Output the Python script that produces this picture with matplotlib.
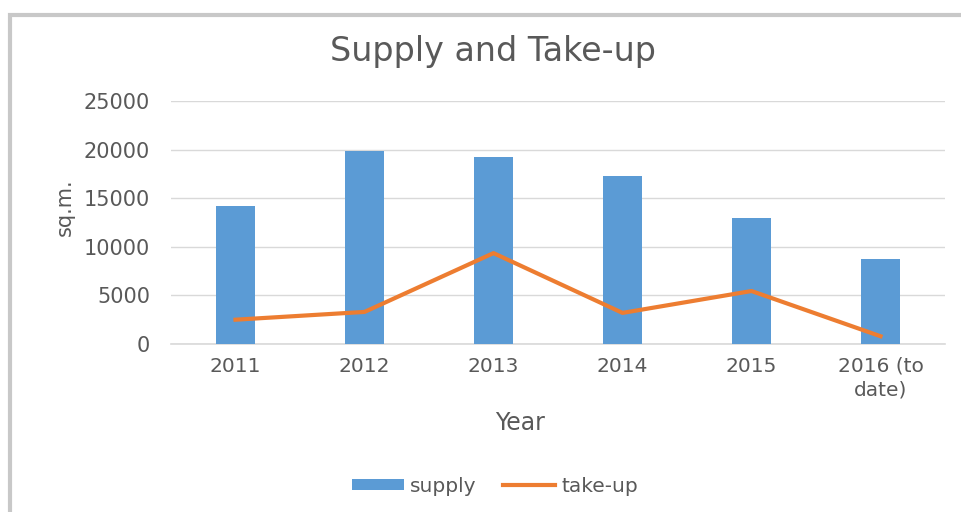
# Supply and Take-up chart
import matplotlib.pyplot as plt
from matplotlib.patches import Rectangle

plt.rcParams['font.family'] = ['DejaVu Sans']

# Data
years = ['2011', '2012', '2013', '2014', '2015', '2016 (to\ndate)']
supply = [14200, 19850, 19200, 17300, 13000, 8700]
take_up = [2500, 3300, 9350, 3200, 5450, 800]
y_ticks = [0, 5000, 10000, 15000, 20000, 25000]

text_color = '#595959'
blue = '#5B9BD5'
orange = '#ED7D31'

fig = plt.figure(figsize=(9.62, 5.12), dpi=100)
fig.patch.set_facecolor('white')

# grey frame round the chart (runs off the right and bottom edges)
frame = Rectangle((10 / 962, -0.1), 1.2, 1 - 15 / 512 + 0.1,
                  transform=fig.transFigure, fill=False,
                  edgecolor='#c8c8c8', linewidth=3)
fig.patches.append(frame)

ax = fig.add_axes([171 / 962, 1 - 344 / 512, (945 - 171) / 962, (344 - 101) / 512])

x = range(len(years))
bars = ax.bar(x, supply, width=0.3, color=blue, label='supply', zorder=2)
line, = ax.plot(x, take_up, color=orange, linewidth=3, label='take-up', zorder=3,
                solid_joinstyle='round')

ax.set_xlim(-0.5, len(years) - 0.5)
ax.set_ylim(0, 25000)
ax.set_yticks(y_ticks)
ax.set_xticks(list(x))
ax.set_xticklabels(years, linespacing=1.3)
ax.tick_params(axis='both', length=0, colors=text_color)
ax.tick_params(axis='x', pad=9, labelsize=14.5)
ax.tick_params(axis='y', pad=15, labelsize=15)

ax.grid(axis='y', color='#d9d9d9', linewidth=1, zorder=0)
ax.axhline(0, color='#d9d9d9', linewidth=1.2, zorder=1, clip_on=False)
for s in ax.spines.values():
    s.set_visible(False)

ax.set_xlabel('Year', fontsize=17, color=text_color)
ax.xaxis.set_label_coords((520 - 171) / (945 - 171), -(411 - 344) / 243)
ax.set_ylabel('sq.m.', fontsize=15, color=text_color)
ax.yaxis.set_label_coords(-(171 - 75) / 774, (344 - 207) / 243)

fig.text(493 / 962, 1 - 52 / 512, 'Supply and Take-up', fontsize=24,
         color=text_color, ha='center', va='center')

leg = ax.legend([bars, line], ['supply', 'take-up'], loc='center',
                bbox_to_anchor=(495 / 962, 1 - 486 / 512),
                bbox_transform=fig.transFigure, ncol=2, frameon=False,
                fontsize=14.5, handlelength=2.6, handleheight=0.5,
                handletextpad=0.3, columnspacing=1.3)
for t in leg.get_texts():
    t.set_color(text_color)

plt.savefig('out.png', dpi=100)
